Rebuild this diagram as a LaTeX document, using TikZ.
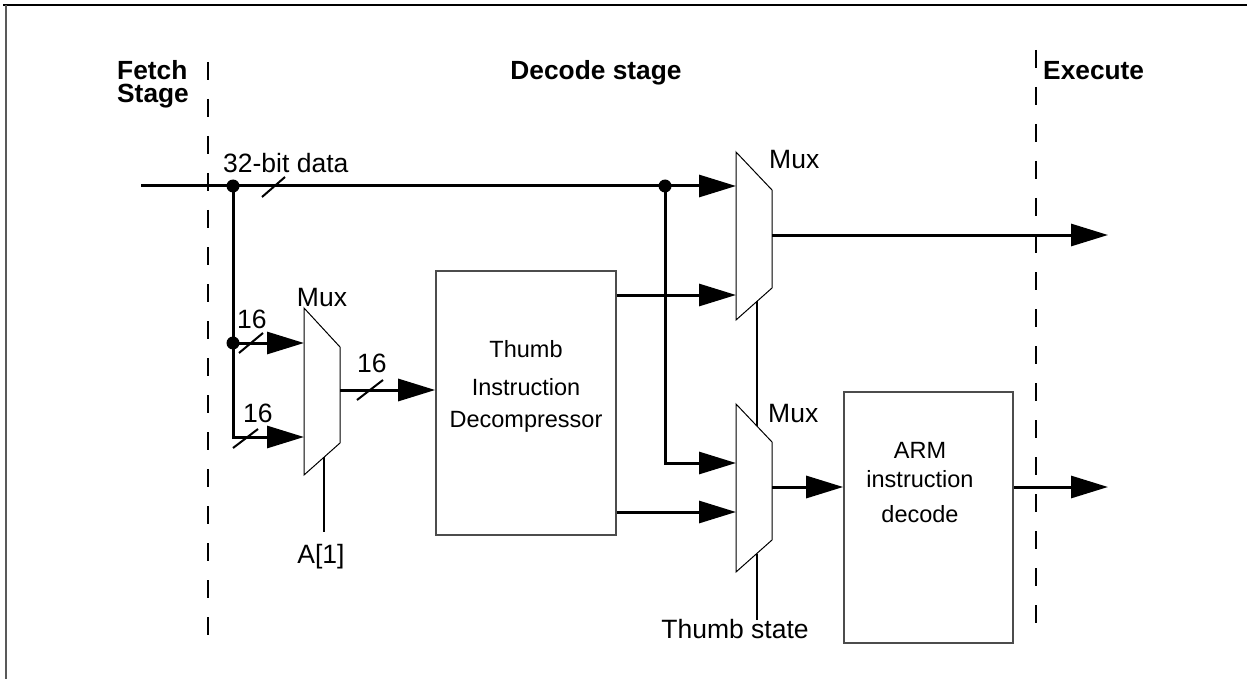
\documentclass[tikz,border=0pt]{standalone}
\usepackage{fontspec}
\setmainfont{Liberation Sans}
\usetikzlibrary{arrows.meta,calc}
\begin{document}
\begin{tikzpicture}[x=1pt,y=-1pt,
  sig/.style={line width=3pt},
  arr/.style={sig,-{Triangle[length=37pt,width=22pt]}},
  muxshape/.style={draw,line width=1pt,fill=white,line join=miter},
  blk/.style={draw=black!70,line width=1.6pt,inner sep=0pt},
  selline/.style={line width=1.6pt},
  stageline/.style={line width=2.5pt,dash pattern=on 18pt off 19pt},
  lbl/.style={font=\fontsize{26.5}{30}\selectfont,inner sep=0pt,anchor=base},
  boxtxt/.style={font=\fontsize{23.5}{27}\selectfont,inner sep=0pt,anchor=base},
  hdr/.style={font=\fontsize{26.3}{23.5}\selectfont\bfseries,inner sep=0pt},
  slash/.style={line width=2pt},
  dot/.style={circle,fill,inner sep=0pt,minimum size=13pt}]
\useasboundingbox (0,0) rectangle (1247,679);
% frame
\draw[line width=2pt] (3,5) -- (1247,5);
\draw[line width=2pt,black!65] (6,5) -- (6,679);
% stage boundaries
\draw[stageline] (208,62) -- (208,637);
\draw[stageline] (1036,50) -- (1036,640);
% stage headings
\node[hdr,anchor=base west,align=left] (fetch) at (117,103) {Fetch\\Stage};
\node[hdr,anchor=base] (decode) at (596,80) {Decode stage};
\node[hdr,anchor=base west] (execute) at (1043,80) {Execute};
% blocks
\node[blk,draw,minimum width=180pt,minimum height=264pt] (tid) at (526,403) {};
\node[blk,draw,minimum width=169pt,minimum height=251pt] (arm) at (928.5,517.5) {};
\node[boxtxt] (t1) at (526,357) {Thumb};
\node[boxtxt] (t2) at (526,395) {Instruction};
\node[boxtxt] (t3) at (526,427) {Decompressor};
\node[boxtxt] (a1) at (920,458) {ARM};
\node[boxtxt] (a2) at (920,487) {instruction};
\node[boxtxt] (a3) at (920,522) {decode};
% multiplexers
\coordinate (m0tl) at (304,308); \coordinate (m0tr) at (340,347);
\coordinate (m0br) at (340,443); \coordinate (m0bl) at (304,475);
\coordinate (m1tl) at (736,152); \coordinate (m1tr) at (772,190);
\coordinate (m1br) at (772,288); \coordinate (m1bl) at (736,320);
\coordinate (m2tl) at (736,404); \coordinate (m2tr) at (772,442);
\coordinate (m2br) at (772,540); \coordinate (m2bl) at (736,572);
\draw[muxshape] (m0tl) -- (m0tr) -- (m0br) -- (m0bl) -- cycle;
\draw[muxshape] (m1tl) -- (m1tr) -- (m1br) -- (m1bl) -- cycle;
\draw[muxshape] (m2tl) -- (m2tr) -- (m2br) -- (m2bl) -- cycle;
\node[lbl] (mux0) at (322,306) {Mux};
\node[lbl,anchor=base west] (mux1) at (769,169) {Mux};
\node[lbl,anchor=base west] (mux2) at (768,422) {Mux};
% port coordinates
\coordinate (in) at (141,186);
\coordinate (m0a) at (304,343);
\coordinate (m0b) at (304,437);
\coordinate (m0o) at (340,390);
\coordinate (m1a) at (736,186);
\coordinate (m1b) at (736,295);
\coordinate (m1o) at (772,235);
\coordinate (m2a) at (736,463);
\coordinate (m2b) at (736,512);
\coordinate (m2o) at (772,487);
\coordinate (out1) at (1108,235);
\coordinate (out2) at (1108,487);
\coordinate (s0a) at (324,457); \coordinate (s0b) at (324,532);
\coordinate (s1a) at (757,301); \coordinate (s1b) at (757,425.5);
\coordinate (s2a) at (757,553.5); \coordinate (s2b) at (757,620);
% junction dots
\node[dot] (d1) at (233,186) {};
\node[dot] (d2) at (665,186) {};
\node[dot] (d3) at (233,343) {};
% signals
\draw[arr] (in) -- (m1a);
\draw[arr] (d1.center) |- (m0b);
\draw[arr] (d3.center) -- (m0a);
\draw[arr] (m0o) -- (tid.west |- m0o);
\draw[arr] (tid.east |- m1b) -- (m1b);
\draw[arr] (tid.east |- m2b) -- (m2b);
\draw[arr] (d2.center) |- (m2a);
\draw[arr] (m1o) -- (out1);
\draw[arr] (m2o) -- (arm.west |- m2o);
\draw[arr] (arm.east |- out2) -- (out2);
% select lines
\draw[selline] (s0a) -- (s0b);
\draw[selline] (s1a) -- (s1b);
\draw[selline] (s2a) -- (s2b);
\node[lbl] (a1lbl) at (321,563) {A[1]};
\node[lbl] (tslbl) at (735,638) {Thumb state};
% bus width marks
\draw[slash] (262,197) -- (285,177);
\draw[slash] (239,353) -- (263,333);
\draw[slash] (233,448) -- (258,429);
\draw[slash] (357,400) -- (383,380);
\node[lbl,anchor=base west] (w32) at (223,173) {32-bit data};
\node[lbl,anchor=base west] (w16a) at (237,328) {16};
\node[lbl,anchor=base west] (w16b) at (243,422) {16};
\node[lbl,anchor=base west] (w16c) at (357,372) {16};
\end{tikzpicture}
\end{document}
